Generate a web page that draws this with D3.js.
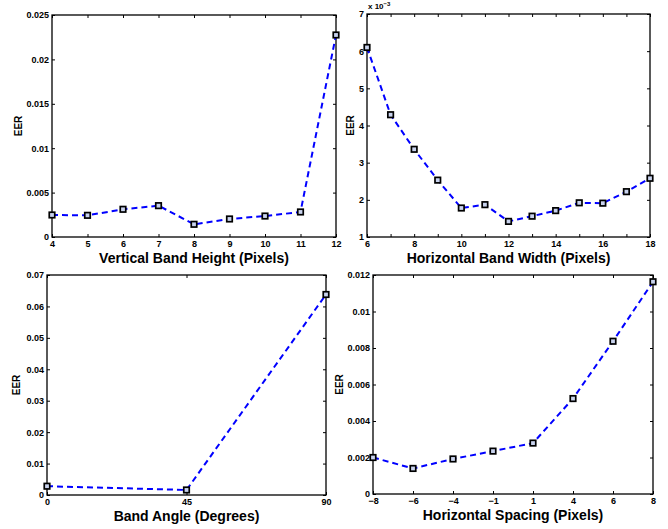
<!DOCTYPE html>
<html><head><meta charset="utf-8">
<script src="https://cdn.jsdelivr.net/npm/d3@7"></script>
<style>
html,body{margin:0;padding:0;background:#fff;}
svg{display:block;font-family:"Liberation Sans",Arial,Helvetica,sans-serif;font-weight:bold;}
</style></head>
<body><svg id="c" width="668" height="529"></svg>
<script>
// ---- data ----
const vbhX = [4, 5, 6, 7, 8, 9, 10, 11, 12];
const vbhEER = [0.00248, 0.00244, 0.00312, 0.00353, 0.00143, 0.00203, 0.00236, 0.00282, 0.02275];
const vbhXTicks = [4, 5, 6, 7, 8, 9, 10, 11, 12];
const vbhYTicks = [0, 0.005, 0.01, 0.015, 0.02, 0.025];

const hbwX = [6, 7, 8, 9, 10, 11, 12, 13, 14, 15, 16, 17, 18];
const hbwEER = [0.00610, 0.00429, 0.00336, 0.00253, 0.00178, 0.00187, 0.00142, 0.00156, 0.00171, 0.00192, 0.00191, 0.00222, 0.00258];
const hbwXTicks = [6, 7, 8, 9, 10, 11, 12, 13, 14, 15, 16, 17, 18];
const hbwXLabels = [6, 8, 10, 12, 14, 16, 18];
const hbwYTicks = [0.001, 0.002, 0.003, 0.004, 0.005, 0.006, 0.007];

const angleX = [0, 45, 90];
const angleEER = [0.0028, 0.0016, 0.0638];
const angleXTicks = [0, 45, 90];
const angleYTicks = [0, 0.01, 0.02, 0.03, 0.04, 0.05, 0.06, 0.07];

const spacingX = ["-8", "-6", "-4", "-1", "1", "4", "6", "8"];
const spacingEER = [0.00200, 0.00140, 0.00192, 0.00235, 0.00279, 0.00523, 0.00837, 0.01163];
const spacingYTicks = [0, 0.002, 0.004, 0.006, 0.008, 0.01, 0.012];

const titles = ["Vertical Band Height (Pixels)", "Horizontal Band Width (Pixels)", "Band Angle (Degrees)", "Horizontal Spacing (Pixels)"];
const yTitle = "EER";

const svg = d3.select("#c");
const fmt = d3.format("~g");

function panel(o) {
  const g = svg.append("g");
  const x = o.x, y = o.y;
  const [x0, x1] = x.range(), [y0, y1] = y.range(); // y0 bottom
  g.append("rect").attr("x", x0).attr("y", y1).attr("width", x1 - x0).attr("height", y0 - y1)
    .attr("fill", "none").attr("stroke", "#000").attr("stroke-width", 1.3);
  const tl = 3;
  const bx = g.append("g").attr("transform", `translate(0,${y0})`)
    .call(d3.axisBottom(x).tickValues(o.xTicks).tickSizeInner(-tl).tickSizeOuter(0).tickFormat(o.xFmt).tickPadding(4));
  const tx = g.append("g").attr("transform", `translate(0,${y1})`)
    .call(d3.axisTop(x).tickValues(o.xTicks).tickSizeInner(-tl).tickSizeOuter(0).tickFormat(""));
  const ly = g.append("g").attr("transform", `translate(${x0},0)`)
    .call(d3.axisLeft(y).tickValues(o.yTicks).tickSizeInner(-tl).tickSizeOuter(0).tickFormat(o.yFmt).tickPadding(3));
  const ry = g.append("g").attr("transform", `translate(${x1},0)`)
    .call(d3.axisRight(y).tickValues(o.yTicks).tickSizeInner(-tl).tickSizeOuter(0).tickFormat(""));
  [bx, tx, ly, ry].forEach(a => {
    a.select(".domain").remove();
    a.selectAll("line").attr("stroke", "#000").attr("stroke-width", 1);
    a.selectAll("text").attr("font-size", 9).attr("font-weight", "bold")
      .attr("font-family", "Liberation Sans, Arial, sans-serif").attr("fill", "#000");
  });
  const line = d3.line().x((d, i) => x(o.xs[i])).y(d => y(d));
  g.append("path").datum(o.ys).attr("d", line).attr("fill", "none")
    .attr("stroke", "#0000ff").attr("stroke-width", 2).attr("stroke-dasharray", "6,4");
  const s = 5.5;
  g.selectAll("rect.m").data(o.ys).enter().append("rect").attr("class", "m")
    .attr("x", (d, i) => x(o.xs[i]) - s / 2).attr("y", d => y(d) - s / 2)
    .attr("width", s).attr("height", s)
    .attr("fill", "#c9d3ee").attr("stroke", "#000").attr("stroke-width", 1.7);
  g.append("text").attr("x", (x0 + x1) / 2).attr("y", y0 + 26).attr("text-anchor", "middle")
    .attr("font-size", 14).attr("fill", "#000").text(o.title);
  g.append("text").attr("transform", `translate(${o.yLabX},${(y0 + y1) / 2}) rotate(-90)`)
    .attr("text-anchor", "middle").attr("font-size", 10).attr("fill", "#000").text(yTitle);
  return g;
}

panel({
  x: d3.scaleLinear().domain([4, 12]).range([52, 336]),
  y: d3.scaleLinear().domain([0, 0.025]).range([237, 15]),
  xs: vbhX, ys: vbhEER, xTicks: vbhXTicks, yTicks: vbhYTicks,
  xFmt: d3.format("d"), yFmt: fmt, title: titles[0], yLabX: 22
});
panel({
  x: d3.scaleLinear().domain([6, 18]).range([367, 650]),
  y: d3.scaleLinear().domain([0.001, 0.007]).range([237, 14]),
  xs: hbwX, ys: hbwEER, xTicks: hbwXTicks, yTicks: hbwYTicks,
  xFmt: d => hbwXLabels.includes(d) ? String(d) : "", yFmt: d => fmt(Math.round(d * 1000)),
  title: titles[1], yLabX: 354
});
const exp = svg.append("text").attr("x", 368).attr("y", 9).attr("font-size", 8).attr("fill", "#000");
exp.append("tspan").text("x 10");
exp.append("tspan").attr("font-size", 6).attr("dy", -3).text("−3");
panel({
  x: d3.scaleLinear().domain([0, 90]).range([47, 326]),
  y: d3.scaleLinear().domain([0, 0.07]).range([495, 275]),
  xs: angleX, ys: angleEER, xTicks: angleXTicks, yTicks: angleYTicks,
  xFmt: d3.format("d"), yFmt: fmt, title: titles[2], yLabX: 20
});
panel({
  x: d3.scalePoint().domain(spacingX).range([373, 653]),
  y: d3.scaleLinear().domain([0, 0.012]).range([494, 275]),
  xs: spacingX, ys: spacingEER, xTicks: spacingX, yTicks: spacingYTicks,
  xFmt: d => d.replace("-", "−"), yFmt: fmt, title: titles[3], yLabX: 343
});
</script></body></html>
